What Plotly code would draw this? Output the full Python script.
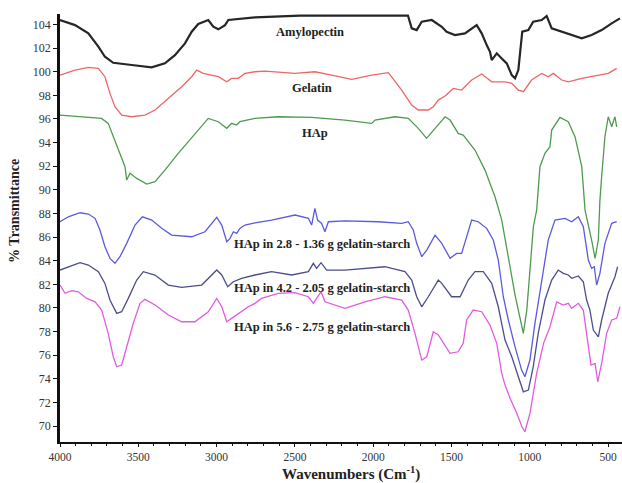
import plotly.graph_objects as go

# ---- data (wavenumber cm^-1, % transmittance) ----
amy_w = [4000, 3904, 3819, 3755, 3713, 3660, 3542, 3415, 3330, 3266, 3202, 3159, 3117, 3053, 3021, 2989,
         2946, 2925, 2755, 2467, 2148, 1778, 1754, 1722, 1690, 1626, 1562, 1531, 1478, 1414, 1339, 1307,
         1275, 1254, 1243, 1211, 1179, 1147, 1115, 1094, 1073, 1062, 1048, 1009, 978, 924, 892, 860, 796,
         732, 668, 605, 541, 477, 424]
amy_t = [104.38, 103.95, 103.25, 102.12, 101.27, 100.76, 100.57, 100.37, 100.71, 101.41, 102.40, 103.39,
         104.04, 104.38, 103.81, 103.59, 103.95, 104.38, 104.61, 104.76, 104.76, 104.76, 103.67, 103.53,
         104.23, 104.38, 103.81, 103.39, 103.11, 103.25, 103.95, 103.25, 102.26, 101.69, 100.99, 101.56,
         101.13, 100.71, 99.72, 99.44, 100.14, 101.56, 103.39, 103.53, 104.23, 104.38, 104.72, 103.67,
         103.39, 103.11, 102.83, 103.11, 103.53, 104.10, 104.52]

gel_w = [4000, 3904, 3819, 3755, 3713, 3681, 3649, 3606, 3542, 3457, 3393, 3308, 3223, 3159, 3127, 3085,
         2989, 2935, 2904, 2861, 2819, 2755, 2691, 2499, 2372, 2265, 2137, 2010, 1903, 1818, 1754, 1712,
         1648, 1616, 1584, 1541, 1488, 1435, 1371, 1307, 1243, 1158, 1115, 1073, 1041, 988, 924, 882, 850,
         796, 754, 668, 562, 499, 445]
gel_t = [99.72, 100.14, 100.37, 100.29, 99.58, 98.17, 97.04, 96.33, 96.19, 96.33, 96.76, 97.75, 98.73,
         99.58, 100.14, 99.86, 99.58, 99.15, 99.44, 99.44, 99.86, 100.0, 100.06, 99.86, 100.0, 99.72, 99.36,
         99.72, 99.92, 98.45, 97.18, 96.76, 96.76, 97.04, 97.60, 97.94, 98.59, 98.45, 99.30, 99.81, 99.15,
         99.15, 99.02, 98.45, 98.31, 99.30, 99.86, 99.58, 99.86, 99.30, 99.15, 99.44, 99.72, 99.86, 100.29]

hap_w = [4000, 3904, 3819, 3734, 3692, 3649, 3606, 3585, 3574, 3553, 3510, 3446, 3393, 3330, 3245, 3138,
         3053, 2989, 2935, 2904, 2872, 2851, 2755, 2606, 2393, 2180, 2010, 1988, 1861, 1776, 1712, 1659,
         1616, 1562, 1541, 1509, 1467, 1457, 1425, 1350, 1286, 1222, 1179, 1158, 1126, 1094, 1062, 1041,
         1019, 999, 977, 956, 935, 903, 871, 860, 807, 754, 711, 668, 647, 605, 583, 562, 552, 541, 520,
         499, 477, 456, 445]
hap_t = [96.33, 96.25, 96.14, 96.05, 95.63, 94.22, 92.80, 91.96, 90.83, 91.40, 90.97, 90.49, 90.69, 91.67,
         93.09, 94.78, 96.05, 95.77, 95.21, 95.63, 95.49, 95.77, 96.05, 96.19, 96.14, 95.91, 95.63, 95.91,
         96.19, 96.05, 95.21, 94.36, 95.06, 95.91, 96.19, 95.91, 95.06, 94.78, 94.64, 93.37, 91.67, 89.42,
         87.44, 85.75, 83.49, 81.09, 79.26, 77.85, 79.82, 83.49, 86.88, 88.29, 91.96, 93.09, 93.65, 95.06,
         96.14, 95.77, 94.50, 91.96, 88.29, 85.75, 84.20, 85.75, 89.14, 91.11, 94.50, 96.19, 95.34, 96.19,
         95.34]

s1_w = [4000, 3947, 3872, 3819, 3776, 3745, 3713, 3681, 3649, 3617, 3574, 3521, 3474, 3414, 3351, 3287,
        3159, 3074, 2999, 2967, 2935, 2914, 2893, 2872, 2851, 2819, 2755, 2649, 2499, 2414, 2393, 2372,
        2355, 2329, 2308, 2286, 2180, 1967, 1818, 1776, 1744, 1722, 1690, 1658, 1605, 1562, 1509, 1467,
        1435, 1403, 1371, 1329, 1275, 1233, 1201, 1169, 1137, 1094, 1052, 1031, 999, 967, 924, 882, 839,
        775, 732, 690, 658, 626, 605, 588, 573, 552, 520, 477, 445]
s1_t = [87.30, 87.72, 88.06, 87.95, 87.59, 86.60, 85.18, 84.20, 83.78, 84.34, 85.47, 87.02, 87.72, 87.44,
        86.74, 86.17, 86.03, 86.45, 87.67, 87.02, 85.61, 85.89, 86.45, 86.32, 86.74, 87.02, 87.21, 87.44,
        87.87, 87.59, 87.02, 88.43, 87.44, 87.16, 86.45, 87.30, 87.38, 87.30, 87.16, 87.30, 86.60, 85.47,
        84.34, 84.90, 86.17, 85.47, 84.20, 84.62, 84.62, 86.03, 87.44, 87.30, 86.74, 85.75, 84.06, 80.95,
        78.98, 76.71, 74.74, 74.17, 75.59, 78.70, 82.36, 85.75, 87.44, 87.59, 87.30, 87.72, 86.88, 84.06,
        83.35, 83.49, 81.94, 82.93, 85.47, 87.16, 87.30]

s2_w = [4000, 3947, 3872, 3819, 3755, 3713, 3681, 3638, 3606, 3564, 3510, 3468, 3394, 3308, 3223, 3095,
        2999, 2967, 2929, 2893, 2840, 2755, 2649, 2520, 2414, 2382, 2361, 2333, 2297, 2180, 2052, 1925,
        1797, 1754, 1722, 1690, 1648, 1584, 1562, 1499, 1445, 1393, 1350, 1297, 1243, 1201, 1158, 1115,
        1073, 1041, 1009, 978, 946, 903, 860, 818, 786, 754, 732, 690, 658, 637, 616, 594, 562, 541, 499,
        456, 439]
s2_t = [83.21, 83.49, 83.83, 83.63, 83.07, 82.08, 80.67, 79.54, 79.68, 80.81, 82.36, 83.07, 82.79, 81.94,
        81.74, 81.94, 83.21, 82.79, 81.80, 82.22, 82.51, 82.79, 83.07, 82.79, 83.07, 83.78, 83.35, 83.83,
        83.21, 83.21, 83.35, 83.49, 83.07, 82.36, 80.95, 80.10, 80.95, 82.36, 82.08, 80.95, 80.95, 82.36,
        83.07, 83.07, 82.08, 80.10, 77.28, 75.87, 74.17, 72.90, 73.05, 75.02, 77.85, 80.67, 82.36, 83.21,
        82.93, 82.79, 82.51, 82.71, 82.22, 80.67, 79.82, 78.13, 77.56, 78.98, 81.24, 82.64, 83.49]

s3_w = [4000, 3968, 3925, 3883, 3829, 3776, 3734, 3692, 3660, 3638, 3606, 3574, 3532, 3489, 3457, 3393,
        3308, 3223, 3138, 3053, 2999, 2967, 2935, 2904, 2861, 2798, 2755, 2713, 2606, 2499, 2414, 2382,
        2361, 2333, 2308, 2180, 2052, 1925, 1818, 1776, 1733, 1690, 1658, 1616, 1584, 1562, 1509, 1457,
        1425, 1403, 1361, 1307, 1254, 1211, 1179, 1158, 1126, 1083, 1050, 1031, 999, 956, 912, 871, 828,
        786, 754, 732, 690, 658, 626, 609, 583, 566, 541, 509, 477, 445, 424]
s3_t = [81.94, 81.24, 81.46, 81.37, 80.81, 80.52, 79.82, 77.85, 75.87, 75.02, 75.17, 76.71, 78.70, 80.39,
        80.73, 80.25, 79.40, 78.83, 78.83, 79.68, 80.81, 80.10, 78.83, 79.12, 79.54, 80.10, 80.39, 80.81,
        81.24, 81.29, 80.95, 80.39, 80.81, 81.37, 80.52, 79.97, 80.52, 80.95, 80.67, 79.82, 77.85, 75.59,
        75.87, 77.98, 77.71, 77.28, 76.16, 76.29, 77.00, 78.98, 79.82, 79.68, 78.55, 77.00, 74.46, 73.47,
        72.35, 71.08, 69.94, 69.52, 71.08, 74.46, 77.00, 78.41, 80.52, 80.25, 80.39, 79.97, 80.39, 79.82,
        77.00, 75.17, 75.31, 73.75, 75.31, 77.85, 78.98, 79.12, 80.10]

labels = ["Amylopectin", "Gelatin", "HAp",
          "HAp in 2.8 - 1.36 g gelatin-starch",
          "HAp in 4.2 - 2.05 g gelatin-starch",
          "HAp in 5.6 - 2.75 g gelatin-starch"]
label_w = [2404, 2391, 2372, 2902, 2902, 2902]
label_t = [103.36, 98.62, 94.81, 85.41, 81.68, 78.38]
x_ticks = [4000, 3500, 3000, 2500, 2000, 1500, 1000, 500]
y_ticks = list(range(70, 106, 2))

series = [
    (amy_w, amy_t, "#262626", 2.2),
    (gel_w, gel_t, "#ee6666", 1.3),
    (hap_w, hap_t, "#4f9a4f", 1.3),
    (s1_w, s1_t, "#5a5ae0", 1.3),
    (s2_w, s2_t, "#4d4d8c", 1.3),
    (s3_w, s3_t, "#e15ce1", 1.3),
]

FONT = "Liberation Serif"
fig = go.Figure()
for (w, t, c, lw), name in zip(series, labels):
    fig.add_trace(go.Scatter(x=w, y=t, mode="lines", name=name,
                             line=dict(color=c, width=lw), showlegend=False))

anchors = ["center", "center", "center", "left", "left", "left"]
for name, xw, yt, anc in zip(labels, label_w, label_t, anchors):
    fig.add_annotation(x=xw, y=yt, xref="x", yref="y", text="<b>" + name + "</b>",
                       showarrow=False, xanchor=anc, yanchor="middle",
                       font=dict(family=FONT, size=12.5, color="#222222"))

fig.add_annotation(x=0.518, y=-0.099, xref="paper", yref="paper", xanchor="center", yanchor="bottom",
                   text="<b>Wavenumbers (Cm<sup>-1</sup>)</b>", showarrow=False, borderpad=0,
                   font=dict(family=FONT, size=15, color="#222222"))
fig.add_annotation(x=-0.08, y=0.54, xref="paper", yref="paper", xanchor="center", yanchor="middle",
                   text="<b>% Transmittance</b>", textangle=-90, showarrow=False,
                   font=dict(family=FONT, size=14, color="#222222"))

fig.update_layout(
    width=622, height=483,
    margin=dict(l=60, r=0, t=14, b=41),
    paper_bgcolor="white", plot_bgcolor="white",
    xaxis=dict(range=[4000, 411], tickvals=x_ticks, showgrid=False, zeroline=False,
               showline=True, linecolor="#111111", linewidth=2,
               ticks="outside", ticklen=3, tickwidth=1.2, tickcolor="#111111",
               minor=dict(dtick=100, ticks="outside", ticklen=2, tickcolor="#111111", tickwidth=1),
               tickfont=dict(family=FONT, size=11.5, color="#333333")),
    yaxis=dict(range=[68.65, 104.89], tickvals=y_ticks, showgrid=False, zeroline=False,
               showline=True, linecolor="#111111", linewidth=2.5,
               ticks="outside", ticklen=4, tickwidth=1.2, tickcolor="#111111",
               tickfont=dict(family=FONT, size=12, color="#333333")),
)

fig.write_html("out.html", config={"displayModeBar": False},
               post_script="document.body.style.margin='0px';document.body.style.overflow='hidden';")
